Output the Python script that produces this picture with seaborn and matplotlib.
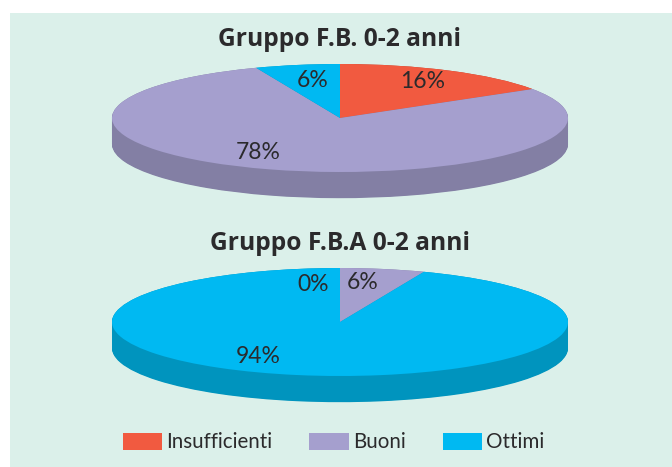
#!/usr/bin/env python3

import matplotlib
matplotlib.use('Agg')
import matplotlib.pyplot as plt
from matplotlib.patches import Patch
import numpy as np
import seaborn as sns

categories = ['Insufficienti', 'Buoni', 'Ottimi']
values_fb = [16, 78, 6]
values_fba = [0, 6, 94]
title_fb = 'Gruppo F.B. 0-2 anni'
title_fba = 'Gruppo F.B.A 0-2 anni'

W, H = 672, 467
BG = '#DBF0EA'
TEXT = '#2B2A2C'
top_colors = sns.color_palette(['#F15A40', '#A59FCE', '#00B9F2'])
side_colors = sns.color_palette(['#B5432F', '#837FA4', '#0094BE'])


def draw_pie(ax, values, title, cy, label_pos):
    # fake 3d: stack of darker pies under the top one
    for offset in np.linspace(0.485, 0.0, 40):
        ax.pie(values, colors=side_colors, startangle=90, counterclock=False,
               center=(0, -offset), wedgeprops={'linewidth': 0})
    ax.pie(values, colors=top_colors, startangle=90, counterclock=False,
           wedgeprops={'linewidth': 0})
    ax.set_aspect('auto')
    ax.set_xlim(-1, 1)
    ax.set_ylim(-1.6, 1)
    for value, (lx, ly) in zip(values, label_pos):
        ax.text(lx, ly, f'{value}%', ha='center', va='center', fontsize=16.5,
                color=TEXT, family='Lato')
    fig.text(340 / W, 1 - cy / H, title, ha='center', va='center', fontsize=17.7,
             fontweight='bold', color=TEXT, family='Open Sans')


if __name__ == '__main__':
    sns.set_theme(style='white')
    fig = plt.figure(figsize=(W / 100, H / 100), dpi=100)
    fig.patch.set_facecolor('white')
    fig.add_artist(plt.Rectangle((10 / W, 0), 1 - 10 / W, 1 - 13 / H, transform=fig.transFigure,
                                 facecolor=BG, edgecolor='none', zorder=-1))

    # pie axes placed in pixels, x centre 340, rx 228, ry 54
    rx, ry = 228, 54
    ax1 = fig.add_axes([(340 - rx) / W, 1 - (118 + 1.6 * ry) / H, 2 * rx / W, 2.6 * ry / H])
    ax2 = fig.add_axes([(340 - rx) / W, 1 - (322 + 1.6 * ry) / H, 2 * rx / W, 2.6 * ry / H])
    draw_pie(ax1, values_fb, title_fb, 39, [(0.364, 0.667), (-0.36, -0.63), (-0.12, 0.70)])
    draw_pie(ax2, values_fba, title_fba, 243, [(-0.12, 0.70), (0.10, 0.74), (-0.36, -0.63)])

    handles = [Patch(facecolor=c, edgecolor='none', label=n) for c, n in zip(top_colors, categories)]
    fig.legend(handles=handles, loc='center', bbox_to_anchor=(333.5 / W, 1 - 442.5 / H), ncol=3,
               frameon=False, handlelength=1.92, handleheight=0.85,
               handletextpad=0.2, columnspacing=1.8, labelcolor=TEXT,
               prop={'family': 'Lato', 'size': 14.8})

    fig.savefig('out.png', dpi=100)
